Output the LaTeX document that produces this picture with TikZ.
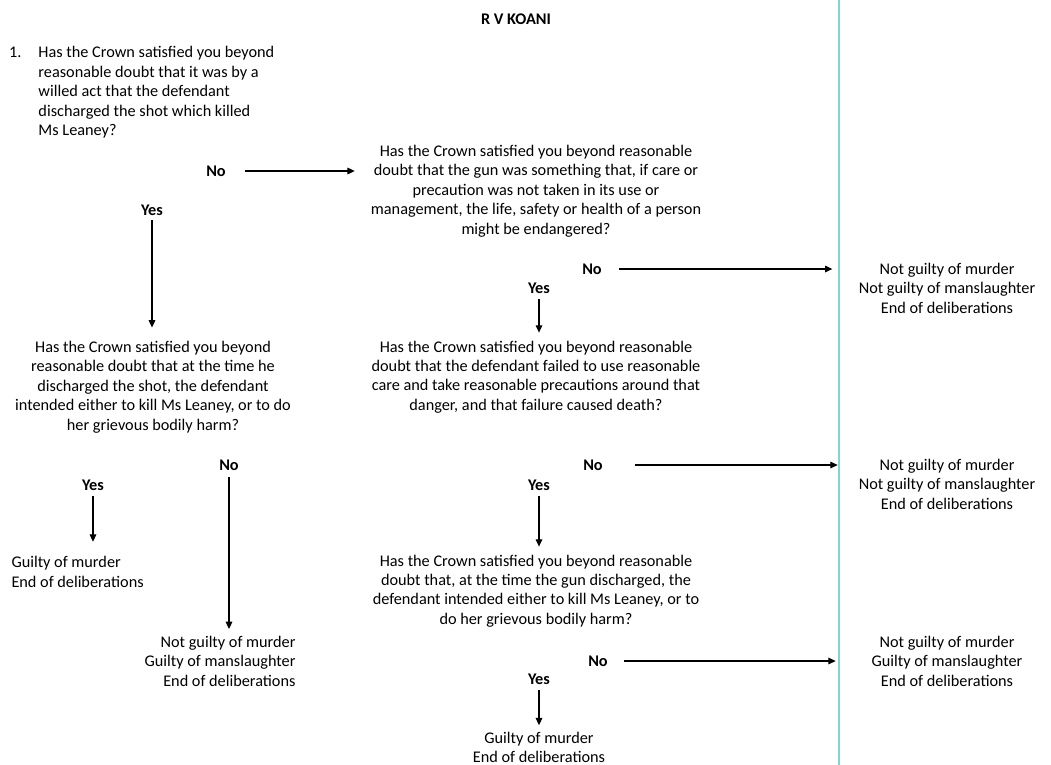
\documentclass[tikz,border=0pt]{standalone}
\usepackage{fontspec}
\setmainfont{Carlito}
\usetikzlibrary{arrows.meta,positioning}

\definecolor{rulecyan}{RGB}{125,214,214}
\tikzset{every picture/.style={line width=0.75pt}}
\tikzset{
  txt/.style={inner sep=0.75pt, align=center, font=\fontsize{12.2}{14.6}\selectfont},
  lbl/.style={inner sep=0.75pt, font=\fontsize{12.2}{14.6}\selectfont\bfseries},
  arr/.style={-{Triangle[length=5.5pt,width=5pt]}, line width=0.8pt}
}

\begin{document}
\begin{tikzpicture}[x=0.75pt,y=0.75pt,yscale=-1,xscale=1]
\useasboundingbox (0,0) rectangle (1051,765);

% Title
\node [lbl] (title) at (516,19) {R V KOANI};
% Divider
\coordinate (rtop) at (839,0);
\coordinate (rbot) at (839,765);
\draw [rulecyan, line width=1pt] (rtop) -- (rbot);

% Question 1
\node [txt, align=left, anchor=west] (q1) at (37,92.5) {Has the Crown satisfied you beyond\\reasonable doubt that it was by a\\willed act that the defendant\\discharged the shot which killed\\Ms Leaney?};
\node [txt, anchor=north east] (num1) at ([xshift=-10.5pt]q1.north west) {1.\vphantom{Hdf}};

% Question 2
\node [lbl] (no1) at (216,171) {No};
\node [txt] (q2) at (536,191) {Has the Crown satisfied you beyond reasonable\\doubt that the gun was something that, if care or\\precaution was not taken in its use or\\management, the life, safety or health of a person\\might be endangered?};
\draw [arr, shorten <=13pt, shorten >=11pt] (no1) -- (no1 -| q2.west);

% Question 3
\node [lbl] (yes1) at (152,210) {Yes};
\node [txt] (q3) at (153,387) {Has the Crown satisfied you beyond\\reasonable doubt that at the time he\\discharged the shot, the defendant\\intended either to kill Ms Leaney, or to do\\her grievous bodily harm?};
\draw [arr, shorten <=2pt, shorten >=9pt] (yes1) -- (yes1 |- q3.north);

% Not guilty / not guilty
\node [lbl] (no2) at (592,269) {No};
\node [txt] (res1) at (947,288) {Not guilty of murder\\Not guilty of manslaughter\\End of deliberations};
\draw [arr, shorten <=12pt, shorten >=5pt] (no2) -- (no2 -| rtop);

% Question 4
\node [lbl] (yes2) at (539,288) {Yes};
\node [txt] (q4) at (536,377) {Has the Crown satisfied you beyond reasonable\\doubt that the defendant failed to use reasonable\\care and take reasonable precautions around that\\danger, and that failure caused death?};
\draw [arr, shorten <=3pt, shorten >=5pt] (yes2) -- (yes2 |- q4.north);

% Murder / manslaughter from question 3
\node [lbl] (yes3) at (93,485) {Yes};
\node [txt, align=left, anchor=west] (gm1) at (10,572) {Guilty of murder\\End of deliberations};
\draw [arr, shorten <=3pt, shorten >=10pt] (yes3) -- (yes3 |- gm1.north);

\node [lbl] (no3) at (229,465) {No};
\node [txt, align=right, anchor=east] (gm2) at (297,661) {Not guilty of murder\\Guilty of manslaughter\\End of deliberations};
\draw [arr, shorten <=4pt, shorten >=4pt] (no3) -- (no3 |- gm2.north);

% Not guilty / not guilty
\node [lbl] (no4) at (593,465) {No};
\node [txt] (res2) at (947,484) {Not guilty of murder\\Not guilty of manslaughter\\End of deliberations};
\draw [arr, shorten <=23pt, shorten >=1pt] (no4) -- (no4 -| rtop);

% Question 5
\node [lbl] (yes4) at (539,485) {Yes};
\node [txt] (q5) at (536,591) {Has the Crown satisfied you beyond reasonable\\doubt that, at the time the gun discharged, the\\defendant intended either to kill Ms Leaney, or to\\do her grievous bodily harm?};
\draw [arr, shorten <=3pt, shorten >=5pt] (yes4) -- (yes4 |- q5.north);

% Manslaughter
\node [lbl] (no5) at (598,661) {No};
\node [txt] (res3) at (947,661) {Not guilty of murder\\Guilty of manslaughter\\End of deliberations};
\draw [arr, shorten <=11pt, shorten >=2.5pt] (no5) -- (no5 -| rtop);

% Murder
\node [lbl] (yes5) at (539,679) {Yes};
\node [txt] (gm3) at (539,747.5) {Guilty of murder\\End of deliberations};
\draw [arr, shorten <=3pt, shorten >=4pt] (yes5) -- (yes5 |- gm3.north);

\end{tikzpicture}
\end{document}
